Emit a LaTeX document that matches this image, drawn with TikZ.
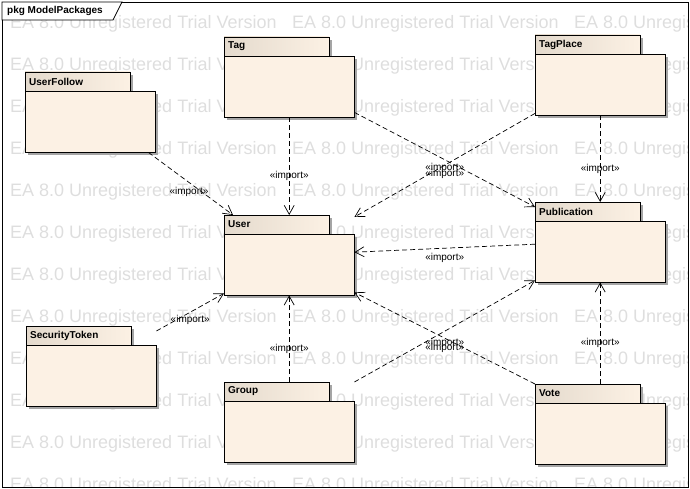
\documentclass[tikz,border=0pt]{standalone}
\usepackage{fontspec}
\setmainfont{Liberation Sans}
\usetikzlibrary{positioning, calc, arrows.meta}

\definecolor{pkgfill}{RGB}{252,241,228}
\definecolor{pkgtab}{RGB}{228,218,205}
\definecolor{pkgshade}{RGB}{165,165,165}
\definecolor{wmgray}{RGB}{222,222,222}

% one UML package: name, x, y (top left), label
\newcommand{\umlpackage}[4]{%
  \node[pkgbox] (#1) at (#2,#3) {};
  \fill[pkgshade] ([shift={(3,3)}]#1.north west) rectangle ([shift={(108,22)}]#1.north west);
  \fill[pkgshade] ([shift={(3,22)}]#1.north west) rectangle ([shift={(3,3)}]#1.south east);
  \draw[pkgtabstyle] (#1.north west) rectangle ([shift={(105,19)}]#1.north west);
  \draw[pkgbodystyle] ([shift={(0,19)}]#1.north west) rectangle (#1.south east);
  \node[pkgname] (#1-name) at ([shift={(4,9.5)}]#1.north west) {#4};
}

\begin{document}
\begin{tikzpicture}[x=1pt, y=-1pt,
    pkgbox/.style={anchor=north west, minimum width=130pt, minimum height=80pt, inner sep=0pt},
    pkgtabstyle/.style={draw=black, line width=0.9pt, left color=pkgtab, right color=pkgfill},
    pkgbodystyle/.style={draw=black, line width=0.9pt, fill=pkgfill},
    pkgname/.style={anchor=west, inner sep=0pt, font=\bfseries\fontsize{10}{12}\selectfont},
    imp/.style={draw, line width=0.7pt, dash pattern=on 5pt off 3pt, -{Straight Barb[length=9pt,width=10pt]}},
    lbl/.style={inner sep=1pt, font=\fontsize{10}{12}\selectfont},
    watermark/.style={anchor=west, inner sep=0pt, text=wmgray, font=\fontsize{18}{20}\selectfont}
  ]
  \useasboundingbox (0,0) rectangle (690,489);

  % trial version watermark
  \begin{scope}
    \clip (2,2) rectangle (688,487);
    \foreach \r in {0,...,11}
      \foreach \c in {0,1,2}
        \node[watermark] (wm-\r-\c) at (10+282*\c, 24+42*\r) {EA 8.0 Unregistered Trial Version};
  \end{scope}

  % frame
  \draw[line width=0.8pt] (2,2) rectangle (688,487);
  \draw[line width=0.8pt, fill=white] (2,2) -- (122,2) -- (113,20) -- (2,20) -- cycle;
  \node[pkgname] (frame-name) at (7,11) {pkg ModelPackages};

  % packages
  \umlpackage{uf}{25}{72}{UserFollow}
  \umlpackage{tag}{224}{37}{Tag}
  \umlpackage{tp}{535}{35}{TagPlace}
  \umlpackage{user}{224}{215}{User}
  \umlpackage{pub}{535}{202}{Publication}
  \umlpackage{st}{26}{326}{SecurityToken}
  \umlpackage{group}{224}{382}{Group}
  \umlpackage{vote}{535}{384}{Vote}

  % imports
  \draw[imp] ($(uf.south east)+(-7,0)$) -- node[lbl, pos=.48, below=3.5pt] (i1) {«import»} ($(user.north west)+(9,0)$);
  \draw[imp] (tag.south) -- node[lbl, pos=.6] (i2) {«import»} (user.north);
  \draw[imp] ($(tp.south west)+(0,-2)$) -- node[lbl, pos=.5, below=2.8pt] (i4) {«import»} ($(user.north east)+(0,2)$);
  \draw[imp] ($(tag.south east)+(0,-5)$) -- node[lbl, pos=.5, below=2.5pt] (i3) {«import»} ($(pub.north west)+(0,5)$);
  \draw[imp] (tp.south) -- node[lbl, pos=.62] (i5) {«import»} (pub.north);
  \draw[imp] ($(pub.west)+(0,2)$) -- node[lbl, pos=.5, below=3.5pt] (i6) {«import»} ($(user.east)+(0,-3)$);
  \draw[imp] ($(st.north east)+(0,5)$) -- node[lbl, pos=.5, below=1.8pt] (i7) {«import»} ($(user.south west)+(0,-2)$);
  \draw[imp] (group.north) -- node[lbl, pos=.38] (i8) {«import»} (user.south);
  \draw[imp] (vote.north west) -- node[lbl, pos=.5, below=4.2pt] (i10) {«import»} ($(user.south east)+(0,-3)$);
  \draw[imp] (group.north east) -- node[lbl, pos=.5, below=5.8pt] (i9) {«import»} ($(pub.south west)+(0,-2)$);
  \draw[imp] (vote.north) -- node[lbl, pos=.4] (i11) {«import»} (pub.south);
\end{tikzpicture}
\end{document}
